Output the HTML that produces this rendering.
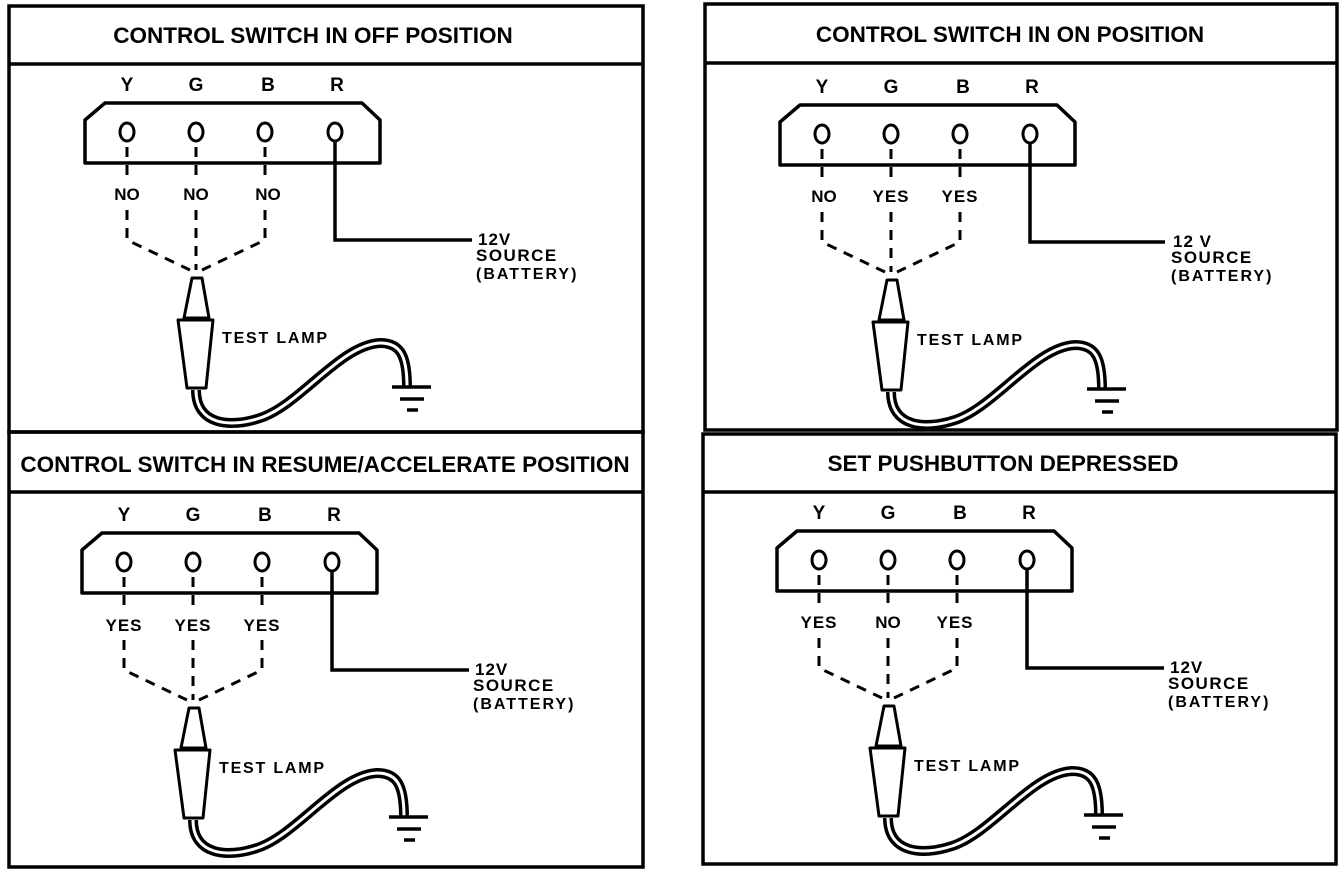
<!DOCTYPE html>
<html><head><meta charset="utf-8"><style>
html,body{margin:0;padding:0;background:#fff}
svg{display:block}
text{font-family:"Liberation Sans",sans-serif;font-weight:bold;fill:#000}
</style></head><body>
<svg width="1344" height="882" viewBox="0 0 1344 882" xmlns="http://www.w3.org/2000/svg">
<defs>
<g id="body">
  <path d="M105,103 L362,103 L380,120 L380,163 L85,163 L85,120 Z" fill="none" stroke="#000" stroke-width="3.5" stroke-linejoin="round"/>
  <ellipse cx="127" cy="132" rx="7" ry="9" fill="#fff" stroke="#000" stroke-width="3"/>
  <ellipse cx="196" cy="132" rx="7" ry="9" fill="#fff" stroke="#000" stroke-width="3"/>
  <ellipse cx="265" cy="132" rx="7" ry="9" fill="#fff" stroke="#000" stroke-width="3"/>
  <ellipse cx="335" cy="132" rx="7" ry="9" fill="#fff" stroke="#000" stroke-width="3"/>
  <text x="127" y="91" font-size="19" text-anchor="middle">Y</text>
  <text x="196" y="91" font-size="19" text-anchor="middle">G</text>
  <text x="268" y="91" font-size="19" text-anchor="middle">B</text>
  <text x="337" y="91" font-size="19" text-anchor="middle">R</text>
  <g fill="none" stroke="#000" stroke-width="3" stroke-dasharray="10,8">
    <path d="M127,147 L127,176"/><path d="M196,147 L196,176"/><path d="M265,147 L265,176"/>
    <path d="M127,210 L127,240 L190,270"/><path d="M196,210 L196,270"/><path d="M265,210 L265,240 L202,270"/>
  </g>
  <path d="M335,141 L335,240 L472,240" fill="none" stroke="#000" stroke-width="3.5"/>
  <path d="M192,278 L202,278 L209,318 L184,318 Z" fill="#fff" stroke="#000" stroke-width="3" stroke-linejoin="round"/>
  <path d="M178,320 L213,320 L206,388 L187,388 Z" fill="#fff" stroke="#000" stroke-width="3" stroke-linejoin="round"/>
  <path d="M196,390 C196,425 230,428 260,418 C300,405 340,345 380,343 C400,343 407,355 407,387" fill="none" stroke="#000" stroke-width="10"/>
  <path d="M196,390 C196,425 230,428 260,418 C300,405 340,345 380,343 C400,343 407,355 407,387" fill="none" stroke="#fff" stroke-width="3"/>
  <path d="M392,387 L431,387 M400,399 L424,399 M407,410 L418,410" stroke="#000" stroke-width="3.5"/>
  <text x="222" y="343" font-size="16" letter-spacing="1.8">TEST LAMP</text>
  <text x="478" y="245" font-size="17" letter-spacing="1">12V</text>
  <text x="476" y="261" font-size="17" letter-spacing="1.5">SOURCE</text>
  <text x="476" y="279" font-size="16" letter-spacing="2">(BATTERY)</text>
</g>
</defs>
<g stroke="#000" stroke-width="3.5" fill="none">
  <rect x="9" y="6" width="634" height="426"/><line x1="9" y1="64" x2="643" y2="64"/>
  <rect x="9" y="432" width="634" height="435"/><line x1="9" y1="492" x2="643" y2="492"/>
  <rect x="705" y="4" width="632" height="426"/><line x1="705" y1="63" x2="1337" y2="63"/>
  <rect x="703" y="434" width="633" height="430"/><line x1="703" y1="492" x2="1336" y2="492"/>
</g>
<text x="313" y="43" font-size="22.5" text-anchor="middle">CONTROL SWITCH IN OFF POSITION</text>
<text x="1010" y="42" font-size="22.5" text-anchor="middle">CONTROL SWITCH IN ON POSITION</text>
<text x="325" y="472" font-size="22.5" text-anchor="middle">CONTROL SWITCH IN RESUME/ACCELERATE POSITION</text>
<text x="1003" y="471" font-size="22.5" text-anchor="middle">SET PUSHBUTTON DEPRESSED</text>

<g><use href="#body"/>
  <text x="127" y="200" font-size="17" text-anchor="middle">NO</text>
  <text x="196" y="200" font-size="17" text-anchor="middle">NO</text>
  <text x="268" y="200" font-size="17" text-anchor="middle">NO</text>
</g>
<g transform="translate(695,2)"><use href="#body"/>
  <rect x="470" y="226" width="40" height="20" fill="#fff"/>
  <text x="478" y="245" font-size="17" letter-spacing="1">12 V</text>
  <text x="129" y="200" font-size="17" text-anchor="middle">NO</text>
  <text x="196" y="200" font-size="17" text-anchor="middle" letter-spacing="1">YES</text>
  <text x="265" y="200" font-size="17" text-anchor="middle" letter-spacing="1">YES</text>
</g>
<g transform="translate(-3,430)"><use href="#body"/>
  <text x="127" y="201" font-size="17" text-anchor="middle" letter-spacing="1">YES</text>
  <text x="196" y="201" font-size="17" text-anchor="middle" letter-spacing="1">YES</text>
  <text x="265" y="201" font-size="17" text-anchor="middle" letter-spacing="1">YES</text>
</g>
<g transform="translate(692,428)"><use href="#body"/>
  <text x="127" y="200" font-size="17" text-anchor="middle" letter-spacing="1">YES</text>
  <text x="196" y="200" font-size="17" text-anchor="middle">NO</text>
  <text x="263" y="200" font-size="17" text-anchor="middle" letter-spacing="1">YES</text>
</g>
</svg>
</body></html>
